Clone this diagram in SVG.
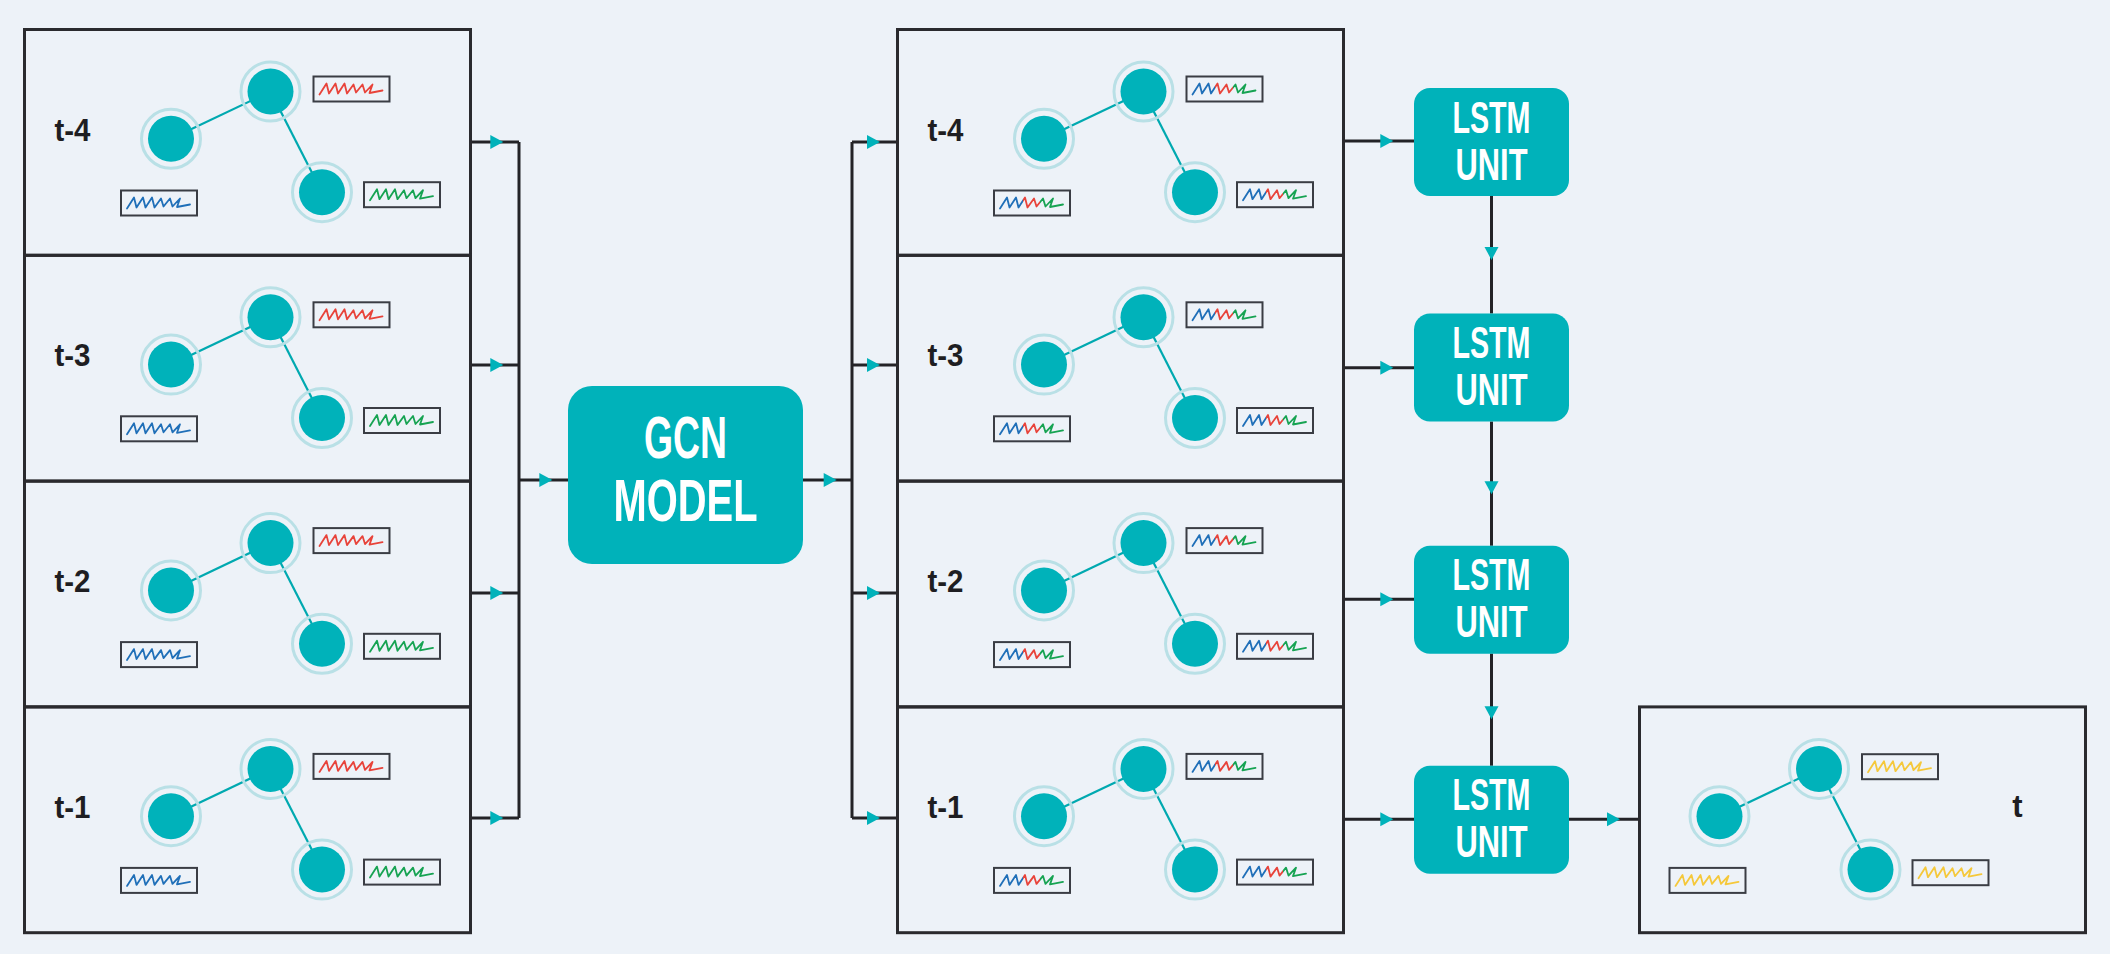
<svg xmlns="http://www.w3.org/2000/svg" xmlns:xlink="http://www.w3.org/1999/xlink" width="2110" height="954" viewBox="0 0 2110 954">
<style>
.frame{fill:none;stroke:#2a2a2e;stroke-width:3}
.lbl{font-family:"Liberation Sans",Arial,sans-serif;font-weight:bold;font-size:31px;fill:#1e1e22}
.sig{fill:#edf2f8;stroke:#3a3d44;stroke-width:2}
.r{stroke:#e8433a}.b{stroke:#1f6fb8}.g{stroke:#16a352}.y{stroke:#f5c83a}.m{stroke:url(#mix)}
.blk{fill:#00b2ba}
.wt{font-family:"Liberation Sans",Arial,sans-serif;font-weight:bold;fill:#ffffff;text-anchor:middle}
.con{fill:none;stroke:#232327;stroke-width:3}
.ah{fill:#00b2ba}
</style>
<defs>
<linearGradient id="mix" x1="0" y1="0" x2="1" y2="0">
<stop offset="0" stop-color="#1f6fb8"/><stop offset="0.36" stop-color="#1f6fb8"/>
<stop offset="0.36" stop-color="#e8433a"/><stop offset="0.64" stop-color="#e8433a"/>
<stop offset="0.64" stop-color="#16a352"/><stop offset="1" stop-color="#16a352"/>
</linearGradient>
<g id="g3">
<line x1="146.5" y1="109.3" x2="246" y2="62" stroke="#00a9b0" stroke-width="2.2"/>
<line x1="246" y1="62" x2="297.5" y2="162.7" stroke="#00a9b0" stroke-width="2.2"/>
<circle cx="146.5" cy="109.3" r="29.5" fill="none" stroke="#b9e0e6" stroke-width="3"/>
<circle cx="246" cy="62" r="29.5" fill="none" stroke="#b9e0e6" stroke-width="3"/>
<circle cx="297.5" cy="162.7" r="29.5" fill="none" stroke="#b9e0e6" stroke-width="3"/>
<circle cx="146.5" cy="109.3" r="23" fill="#00b2ba"/>
<circle cx="246" cy="62" r="23" fill="#00b2ba"/>
<circle cx="297.5" cy="162.7" r="23" fill="#00b2ba"/>
</g>
<rect id="sb" class="sig" width="76" height="25"/>
<path id="saw" d="M6,18 L13,7 L15.5,17 L22,7 L24.5,17 L31,7 L33.5,17 L40,8 L42.5,16 L49,8 L51.5,16 L59,8 L56,16.5 L69,14" fill="none" stroke-width="1.8" stroke-linejoin="round" stroke-linecap="round"/>
<path id="ah" d="M-13,-7 L0,0 L-13,7 Z" class="ah"/>
</defs>
<rect width="2110" height="954" fill="#edf2f8"/>

<g id="connectors">
<path class="con" d="M470,142 H519 M470,365 H519 M470,593 H519 M470,818 H519 M519,142 V818 M519,480 H568"/>
<path class="con" d="M803,480 H852 M852,142 V818 M852,142 H897.5 M852,365 H897.5 M852,593 H897.5 M852,818 H897.5"/>
<path class="con" d="M1343.5,141 H1414 M1343.5,367.7 H1414 M1343.5,599.3 H1414 M1343.5,819.3 H1414"/>
<path class="con" d="M1491.5,196 V313.5 M1491.5,421.5 V545.7 M1491.5,653.5 V765.8 M1569,819.3 H1639.5"/>
<use href="#ah" x="503.3" y="142"/><use href="#ah" x="503.3" y="365"/><use href="#ah" x="503.3" y="593"/><use href="#ah" x="503.3" y="818"/>
<use href="#ah" x="552.3" y="480"/><use href="#ah" x="836.7" y="480"/>
<use href="#ah" x="880" y="142"/><use href="#ah" x="880" y="365"/><use href="#ah" x="880" y="593"/><use href="#ah" x="880" y="818"/>
<use href="#ah" x="1393.3" y="141"/><use href="#ah" x="1393.3" y="367.7"/><use href="#ah" x="1393.3" y="599.3"/><use href="#ah" x="1393.3" y="819.3"/>
<use href="#ah" x="1620" y="819.3"/>
<use href="#ah" transform="translate(1491.5,260) rotate(90)"/>
<use href="#ah" transform="translate(1491.5,494.3) rotate(90)"/>
<use href="#ah" transform="translate(1491.5,719.3) rotate(90)"/>
</g>

<g id="in-t4" transform="translate(24.5,29.5)">
<rect class="frame" width="446" height="225.8"/><text class="lbl" x="30" y="111" textLength="36" lengthAdjust="spacingAndGlyphs">t-4</text><use href="#g3"/>
<use href="#sb" x="289" y="47"/><use href="#saw" x="289" y="47" class="r"/>
<use href="#sb" x="96.5" y="161"/><use href="#saw" x="96.5" y="161" class="b"/>
<use href="#sb" x="339.5" y="152.7"/><use href="#saw" x="339.5" y="152.7" class="g"/>
</g>
<g id="in-t3" transform="translate(24.5,255.3)">
<rect class="frame" width="446" height="225.8"/><text class="lbl" x="30" y="111" textLength="36" lengthAdjust="spacingAndGlyphs">t-3</text><use href="#g3"/>
<use href="#sb" x="289" y="47"/><use href="#saw" x="289" y="47" class="r"/>
<use href="#sb" x="96.5" y="161"/><use href="#saw" x="96.5" y="161" class="b"/>
<use href="#sb" x="339.5" y="152.7"/><use href="#saw" x="339.5" y="152.7" class="g"/>
</g>
<g id="in-t2" transform="translate(24.5,481.1)">
<rect class="frame" width="446" height="225.8"/><text class="lbl" x="30" y="111" textLength="36" lengthAdjust="spacingAndGlyphs">t-2</text><use href="#g3"/>
<use href="#sb" x="289" y="47"/><use href="#saw" x="289" y="47" class="r"/>
<use href="#sb" x="96.5" y="161"/><use href="#saw" x="96.5" y="161" class="b"/>
<use href="#sb" x="339.5" y="152.7"/><use href="#saw" x="339.5" y="152.7" class="g"/>
</g>
<g id="in-t1" transform="translate(24.5,706.9)">
<rect class="frame" width="446" height="225.8"/><text class="lbl" x="30" y="111" textLength="36" lengthAdjust="spacingAndGlyphs">t-1</text><use href="#g3"/>
<use href="#sb" x="289" y="47"/><use href="#saw" x="289" y="47" class="r"/>
<use href="#sb" x="96.5" y="161"/><use href="#saw" x="96.5" y="161" class="b"/>
<use href="#sb" x="339.5" y="152.7"/><use href="#saw" x="339.5" y="152.7" class="g"/>
</g>

<g id="gcn">
<rect class="blk" x="568" y="386" width="235" height="178" rx="24"/>
<text class="wt" x="685.5" y="458" font-size="60" textLength="83" lengthAdjust="spacingAndGlyphs">GCN</text>
<text class="wt" x="685.5" y="521" font-size="60" textLength="144" lengthAdjust="spacingAndGlyphs">MODEL</text>
</g>

<g id="out-t4" transform="translate(897.5,29.5)">
<rect class="frame" width="446" height="225.8"/><text class="lbl" x="30" y="111" textLength="36" lengthAdjust="spacingAndGlyphs">t-4</text><use href="#g3"/>
<use href="#sb" x="289" y="47"/><use href="#saw" x="289" y="47" class="m"/>
<use href="#sb" x="96.5" y="161"/><use href="#saw" x="96.5" y="161" class="m"/>
<use href="#sb" x="339.5" y="152.7"/><use href="#saw" x="339.5" y="152.7" class="m"/>
</g>
<g id="out-t3" transform="translate(897.5,255.3)">
<rect class="frame" width="446" height="225.8"/><text class="lbl" x="30" y="111" textLength="36" lengthAdjust="spacingAndGlyphs">t-3</text><use href="#g3"/>
<use href="#sb" x="289" y="47"/><use href="#saw" x="289" y="47" class="m"/>
<use href="#sb" x="96.5" y="161"/><use href="#saw" x="96.5" y="161" class="m"/>
<use href="#sb" x="339.5" y="152.7"/><use href="#saw" x="339.5" y="152.7" class="m"/>
</g>
<g id="out-t2" transform="translate(897.5,481.1)">
<rect class="frame" width="446" height="225.8"/><text class="lbl" x="30" y="111" textLength="36" lengthAdjust="spacingAndGlyphs">t-2</text><use href="#g3"/>
<use href="#sb" x="289" y="47"/><use href="#saw" x="289" y="47" class="m"/>
<use href="#sb" x="96.5" y="161"/><use href="#saw" x="96.5" y="161" class="m"/>
<use href="#sb" x="339.5" y="152.7"/><use href="#saw" x="339.5" y="152.7" class="m"/>
</g>
<g id="out-t1" transform="translate(897.5,706.9)">
<rect class="frame" width="446" height="225.8"/><text class="lbl" x="30" y="111" textLength="36" lengthAdjust="spacingAndGlyphs">t-1</text><use href="#g3"/>
<use href="#sb" x="289" y="47"/><use href="#saw" x="289" y="47" class="m"/>
<use href="#sb" x="96.5" y="161"/><use href="#saw" x="96.5" y="161" class="m"/>
<use href="#sb" x="339.5" y="152.7"/><use href="#saw" x="339.5" y="152.7" class="m"/>
</g>

<g id="lstm1">
<rect class="blk" x="1414" y="88" width="155" height="108" rx="16"/>
<text class="wt" x="1491.5" y="132.5" font-size="45" textLength="78" lengthAdjust="spacingAndGlyphs">LSTM</text>
<text class="wt" x="1491.5" y="179.5" font-size="45" textLength="72" lengthAdjust="spacingAndGlyphs">UNIT</text>
</g>
<g id="lstm2">
<rect class="blk" x="1414" y="313.5" width="155" height="108" rx="16"/>
<text class="wt" x="1491.5" y="358" font-size="45" textLength="78" lengthAdjust="spacingAndGlyphs">LSTM</text>
<text class="wt" x="1491.5" y="405" font-size="45" textLength="72" lengthAdjust="spacingAndGlyphs">UNIT</text>
</g>
<g id="lstm3">
<rect class="blk" x="1414" y="545.7" width="155" height="108" rx="16"/>
<text class="wt" x="1491.5" y="590.2" font-size="45" textLength="78" lengthAdjust="spacingAndGlyphs">LSTM</text>
<text class="wt" x="1491.5" y="637.2" font-size="45" textLength="72" lengthAdjust="spacingAndGlyphs">UNIT</text>
</g>
<g id="lstm4">
<rect class="blk" x="1414" y="765.8" width="155" height="108" rx="16"/>
<text class="wt" x="1491.5" y="810.3" font-size="45" textLength="78" lengthAdjust="spacingAndGlyphs">LSTM</text>
<text class="wt" x="1491.5" y="857.3" font-size="45" textLength="72" lengthAdjust="spacingAndGlyphs">UNIT</text>
</g>

<g id="pred-t" transform="translate(1639.5,706.9)">
<rect class="frame" width="446" height="225.8"/><text class="lbl" x="372.7" y="110.6">t</text><use href="#g3" x="-66.5"/>
<use href="#sb" x="222.5" y="47.3"/><use href="#saw" x="222.5" y="47.3" class="y"/>
<use href="#sb" x="30" y="161"/><use href="#saw" x="30" y="161" class="y"/>
<use href="#sb" x="273" y="153.3"/><use href="#saw" x="273" y="153.3" class="y"/>
</g>
</svg>
